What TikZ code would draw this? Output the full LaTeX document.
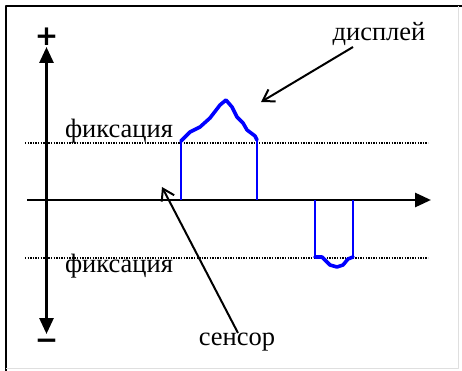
\documentclass[tikz,border=0pt]{standalone}
\usepackage{fontspec}
\setmainfont{Liberation Serif}
\newfontfamily\signfont{DejaVu Sans}
\usetikzlibrary{arrows.meta}

\begin{document}
\begin{tikzpicture}[x=1pt,y=-1pt,line join=round,
    axis/.style={line width=2.8pt},
    level/.style={line width=1.3pt,dash pattern=on 1.3pt off 1.3pt},
    pulse/.style={blue,line width=2.4pt},
    pulsetop/.style={blue,line width=3.6pt,line cap=round},
    pointer/.style={line width=2pt,-{Straight Barb[length=11pt,width=14pt,line width=2pt]}},
    lbl/.style={inner sep=0pt,font=\fontsize{26.5}{28}\selectfont},
    sign/.style={inner sep=0pt,font=\fontsize{28}{28}\selectfont\signfont\bfseries}]
  \useasboundingbox (0,0) rectangle (462,371);
  % frame
  \draw[line width=2pt] (6,371) -- (6,6) -- (462,6);
  \draw[gray!25,line width=1pt] (458,6) -- (458,368) -- (6,368);
  % axes
  \coordinate (O) at (46.5,200.000);
  \coordinate (YT) at (46.5,47.000);
  \coordinate (YB) at (46.5,334.000);
  \coordinate (XL) at (27.000,200.000);
  \coordinate (XR) at (431.000,200.000);
  \draw[axis,{Triangle[length=16pt,width=14pt]}-{Triangle[length=16pt,width=14pt]}] (YB) -- (YT);
  \draw[axis,-{Triangle[length=16pt,width=14pt]}] (XL) -- (XR);
  \node[sign] (plus) at (46.5,37.000) {+};
  \node[sign] (minus) at (46.5,344.000) {−};
  % levels
  \coordinate (UL) at (25.000,143.000);
  \coordinate (UR) at (428.000,143.000);
  \coordinate (LL) at (25.000,258.000);
  \coordinate (LR) at (428.000,258.000);
  \draw[level] (UL) -- (UR);
  \draw[level] (LL) -- (LR);
  \node[lbl] (fixU) at (119.000,131.000) {фиксация};
  \node[lbl] (fixL) at (119.000,266.000) {фиксация};
  % pulses
  \draw[pulse] (181,200) -- (181,141);
  \draw[pulse] (257,200) -- (257,140);
  \draw[pulsetop] (181,141) -- (190,132) -- (200,127) -- (210,118) -- (220,105)
    -- (226,100) -- (232,107) -- (237,117) -- (243,123) -- (247,130)
    -- (255,136) -- (257,140);
  \draw[pulse] (315,200) -- (315,257);
  \draw[pulse] (353,200) -- (353,257);
  \draw[pulsetop] (315,257) -- (322,257) -- (330,265) -- (337,267)
    -- (343,265) -- (348,259) -- (353,257);
  % labels and pointers
  \node[lbl] (disp) at (379.000,34.000) {дисплей};
  \node[lbl] (sens) at (237.000,342.000) {сенсор};
  \coordinate (dispS) at (353.000,47.000);
  \coordinate (dispT) at (261.000,102.000);
  \coordinate (sensS) at (238.000,333.000);
  \coordinate (sensT) at (162.000,187.000);
  \draw[pointer] (dispS) -- (dispT);
  \draw[pointer] (sensS) -- (sensT);
\end{tikzpicture}
\end{document}
